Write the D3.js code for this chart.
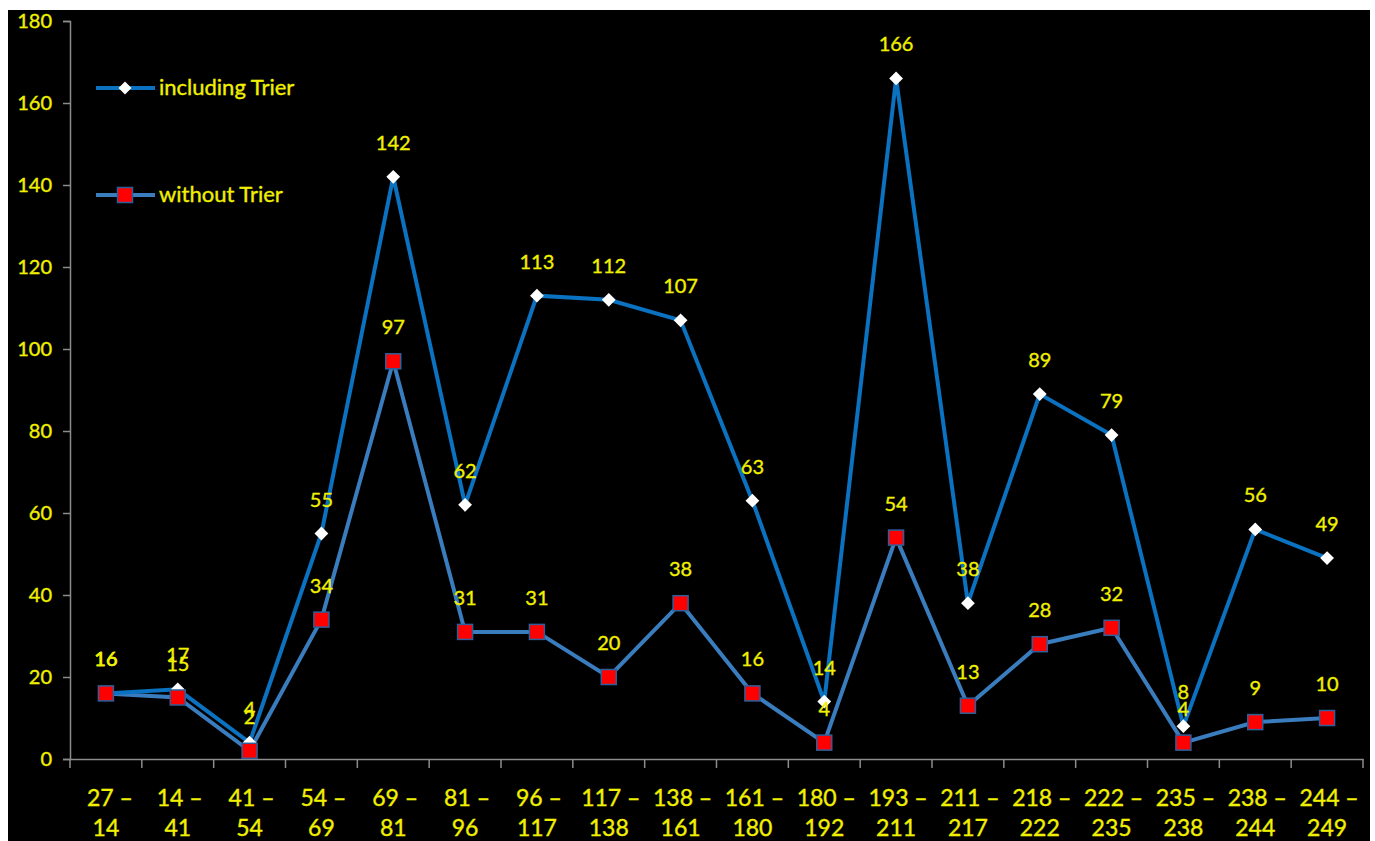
<!DOCTYPE html>
<html><head><meta charset="utf-8">
<script src="https://cdn.jsdelivr.net/npm/d3@7"></script>
<style>html,body{margin:0;padding:0;background:#fff;}svg{display:block;} text{paint-order:stroke;}</style>
</head><body>
<svg id="c" width="1375" height="841"></svg>
<script>
const categories = [["27 \u2013","14"],["14 \u2013","41"],["41 \u2013","54"],["54 \u2013","69"],["69 \u2013","81"],["81 \u2013","96"],["96 \u2013","117"],["117 \u2013","138"],["138 \u2013","161"],["161 \u2013","180"],["180 \u2013","192"],["193 \u2013","211"],["211 \u2013","217"],["218 \u2013","222"],["222 \u2013","235"],["235 \u2013","238"],["238 \u2013","244"],["244 \u2013","249"]];
const includingTrier = [16,17,4,55,142,62,113,112,107,63,14,166,38,89,79,8,56,49];
const withoutTrier = [16,15,2,34,97,31,31,20,38,16,4,54,13,28,32,4,9,10];
const yTicks = [0,20,40,60,80,100,120,140,160,180];
const seriesNames = ["including Trier","without Trier"];

const svg = d3.select("#c");
const font = "Lato, 'Open Sans', sans-serif";
const yellow = "#F0F000";
svg.append("rect").attr("x",8).attr("y",10).attr("width",1362).attr("height",831).attr("fill","#000");

const x = d3.scaleBand().domain(d3.range(categories.length)).range([70,1363]);
const y = d3.scaleLinear().domain([0,180]).range([759,21]);

const styleText = sel => sel.attr("fill",yellow).attr("stroke",yellow).attr("stroke-width",0.35).style("font-family",font);

// y axis
const yAxis = svg.append("g").attr("transform","translate(70,0)")
  .call(d3.axisLeft(y).tickValues(yTicks).tickSize(7).tickPadding(11));
yAxis.select(".domain").attr("stroke","#8c8c8c").attr("stroke-width",1.5);
yAxis.selectAll(".tick line").attr("stroke","#8c8c8c").attr("stroke-width",1.5);
yAxis.selectAll(".tick text").call(styleText).style("font-size","20px");

// x axis
const xAxis = svg.append("g").attr("transform","translate(0,759)")
  .call(d3.axisBottom(x).tickValues([]).tickSizeOuter(0));
xAxis.select(".domain").attr("stroke","#8c8c8c").attr("stroke-width",1.5);
const tickPos = d3.range(categories.length+1).map(i => i < categories.length ? x(i) : x(categories.length-1)+x.bandwidth());
xAxis.selectAll("line.tk").data(tickPos).join("line").attr("class","tk")
  .attr("x1",d=>d).attr("x2",d=>d).attr("y1",0).attr("y2",9)
  .attr("stroke","#8c8c8c").attr("stroke-width",1.5);
const cx = i => x(i) + x.bandwidth()/2;
const catG = svg.append("g");
categories.forEach((c,i)=>{
  const t = catG.append("text").attr("x",cx(i)).attr("text-anchor","middle")
    .call(styleText).style("font-size","23px");
  t.append("tspan").attr("x",cx(i)+ (i===0?4:2)).attr("y",806).text(c[0]);
  t.append("tspan").attr("x",cx(i)).attr("y",836).text(c[1]);
});

const line = d3.line().x((d,i)=>cx(i)).y(d=>y(d));
svg.append("path").datum(withoutTrier).attr("d",line).attr("fill","none")
  .attr("stroke","#3A7DBE").attr("stroke-width",4);
svg.append("path").datum(includingTrier).attr("d",line).attr("fill","none")
  .attr("stroke","#0A72C0").attr("stroke-width",4);

const diamond = d3.symbol().type(d3.symbolSquare).size(95);
svg.append("g").selectAll("path").data(includingTrier).join("path")
  .attr("d",diamond).attr("transform",(d,i)=>`translate(${cx(i)},${y(d)}) rotate(45)`)
  .attr("fill","#fff");
svg.append("g").selectAll("rect").data(withoutTrier).join("rect")
  .attr("x",(d,i)=>cx(i)-7.5).attr("y",d=>y(d)-7.5).attr("width",15).attr("height",15)
  .attr("fill","#FF0000").attr("stroke","#2F5F9A").attr("stroke-width",1.5);

// data labels
const lbl = (arr) => svg.append("g").selectAll("text").data(arr).join("text")
  .attr("x",(d,i)=>cx(i)).attr("y",d=>y(d)-27).attr("text-anchor","middle")
  .call(styleText).style("font-size","20px").text(d=>d);
lbl(includingTrier);
lbl(withoutTrier);

// legend
const leg = svg.append("g");
[[88,"#0A72C0","d"],[195,"#3A7DBE","s"]].forEach((L,k)=>{
  leg.append("line").attr("x1",96).attr("x2",155).attr("y1",L[0]).attr("y2",L[0])
    .attr("stroke",L[1]).attr("stroke-width",4);
  if (L[2]==="d") {
    leg.append("path").attr("d",d3.symbol().type(d3.symbolSquare).size(85)())
      .attr("transform",`translate(125,${L[0]}) rotate(45)`).attr("fill","#fff");
  } else {
    leg.append("rect").attr("x",117.5).attr("y",L[0]-7.5).attr("width",15).attr("height",15)
      .attr("fill","#FF0000").attr("stroke","#2F5F9A").attr("stroke-width",1.5);
  }
  leg.append("text").attr("x",159).attr("y",L[0]+7).call(styleText)
    .style("font-size","22px").text(seriesNames[k]);
});
</script>
</body></html>
